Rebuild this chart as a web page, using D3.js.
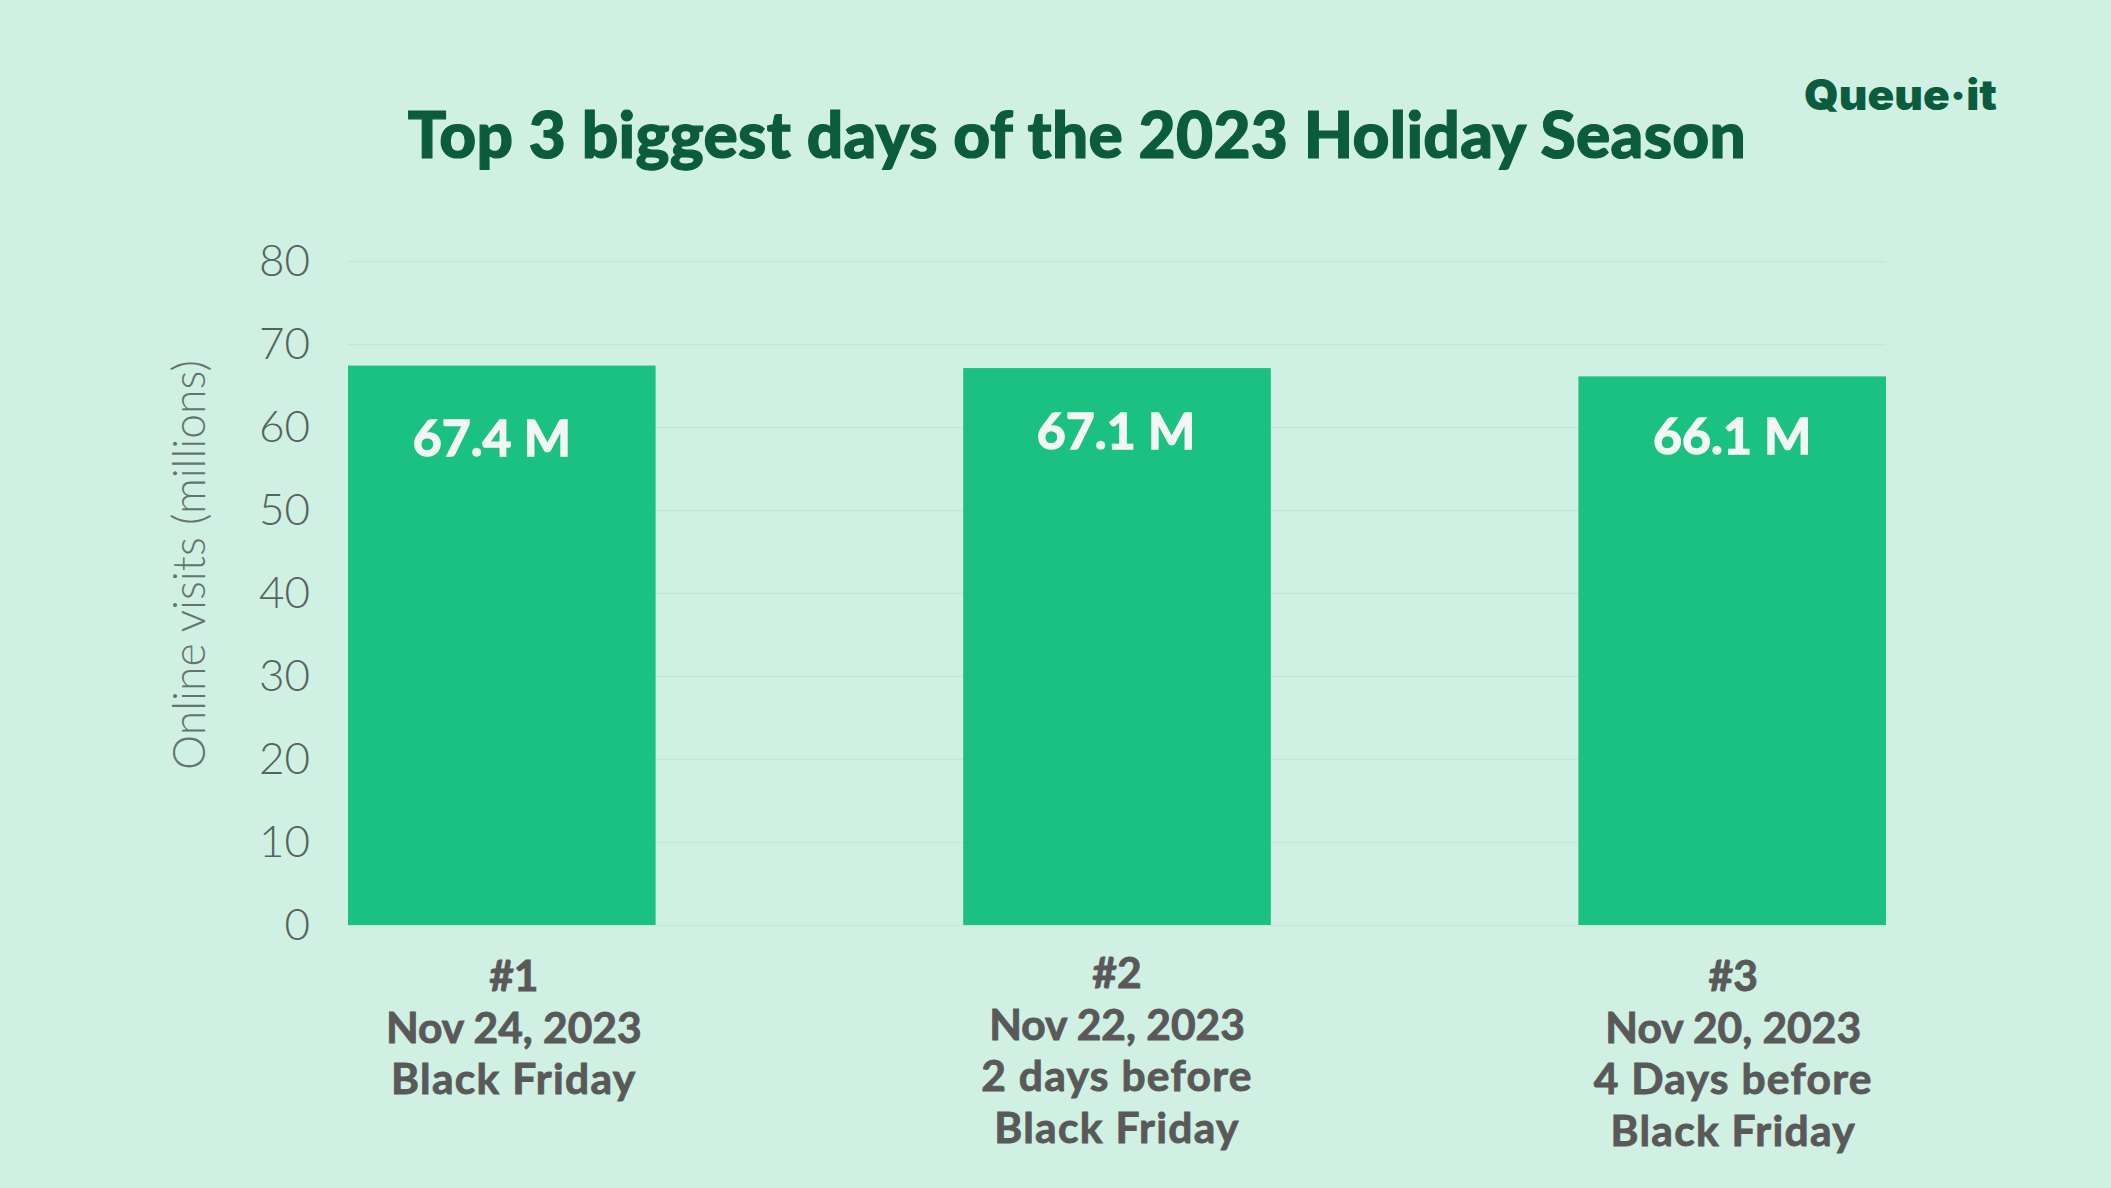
<!DOCTYPE html>
<html>
<head>
<meta charset="utf-8">
<script src="https://d3js.org/d3.v7.min.js"></script>
<style>
  html, body { margin: 0; padding: 0; background: #cff0e3; overflow: hidden; }
  svg { display: block; }
  text { font-family: Lato, "Open Sans", sans-serif; }
</style>
</head>
<body>
<div class="vis"></div>

<script>
  let width = 2111;
  let height = 1188;

  // labelX / linesX nudge each text block, the labels are not quite centred in the original
  let data = [
    {key: "a", value: 67.4, label: "67.4 M", labelX: -10, labelY: 456, lines: ["#1", "Nov 24, 2023", "Black Friday"], linesX: 12, linesY: 991},
    {key: "b", value: 67.1, label: "67.1 M", labelX: -1, labelY: 449, lines: ["#2", "Nov 22, 2023", "2 days before", "Black Friday"], linesX: 0, linesY: 988},
    {key: "c", value: 66.1, label: "66.1 M", labelX: 0, labelY: 454, lines: ["#3", "Nov 20, 2023", "4 Days before", "Black Friday"], linesX: 1, linesY: 991}
  ];

  let svg = d3.select(".vis").append("svg")
    .attr("width", width)
    .attr("height", height);

  svg.append("rect")
    .attr("width", width)
    .attr("height", height)
    .attr("fill", "#cff0e3");

  let x = d3.scaleBand()
    .domain(data.map(d => d.key))
    .range([348, 1886])
    .paddingInner(0.5)
    .paddingOuter(0);

  let y = d3.scaleLinear()
    .domain([0, 80])
    .range([925, 261]);

  // y axis, the tick lines double as the gridlines
  let yAxis = svg.append("g")
    .attr("transform", "translate(348,0)")
    .call(d3.axisLeft(y).tickValues(d3.range(0, 81, 10)).tickSize(-1538).tickPadding(38));
  yAxis.select(".domain").remove();
  yAxis.selectAll("line")
    .attr("stroke", "#c6e6d9")
    .attr("stroke-width", 1.5);
  yAxis.selectAll("text")
    .attr("fill", "#56635d")
    .style("font-size", "44px")
    .style("font-weight", 300);

  svg.append("text")
    .attr("transform", "translate(205,565) rotate(-90)")
    .attr("text-anchor", "middle")
    .attr("fill", "#66746e")
    .style("font-size", "44.5px")
    .style("font-weight", 300)
    .text("Online visits (millions)");

  // Bars
  svg.selectAll("rect.bar")
    .data(data)
    .join("rect")
    .attr("class", "bar")
    .attr("x", d => x(d.key))
    .attr("y", d => y(d.value))
    .attr("width", x.bandwidth())
    .attr("height", d => y(0) - y(d.value))
    .attr("fill", "#1bc181");

  // Value labels
  svg.selectAll("text.value")
    .data(data)
    .join("text")
    .attr("class", "value")
    .attr("x", d => x(d.key) + x.bandwidth() / 2 + d.labelX)
    .attr("y", d => d.labelY)
    .attr("text-anchor", "middle")
    .attr("fill", "#f4f6f5")
    .attr("stroke", "#f4f6f5")
    .attr("stroke-width", 1.4)
    .style("font-size", "50px")
    .style("font-weight", 700)
    .text(d => d.label);

  // Category labels
  let cats = svg.selectAll("text.cat")
    .data(data)
    .join("text")
    .attr("class", "cat")
    .attr("text-anchor", "middle")
    .attr("fill", "#595959")
    .attr("stroke", "#595959")
    .attr("stroke-width", 0.9)
    .style("font-size", "42.5px")
    .style("font-weight", 700);
  cats.selectAll("tspan")
    .data(d => d.lines.map((t, i) => ({t: t, i: i, d: d})))
    .join("tspan")
    .attr("x", c => x(c.d.key) + x.bandwidth() / 2 + c.d.linesX)
    .attr("y", c => c.d.linesY + c.i * 51.5)
    .style("letter-spacing", c => c.i < 2 ? "0px" : "1.3px")
    .text(c => c.t);

  // Title
  svg.append("text")
    .attr("x", 1077)
    .attr("y", 158)
    .attr("text-anchor", "middle")
    .attr("fill", "#0b5c3f")
    .attr("stroke", "#0b5c3f")
    .attr("stroke-width", 1.2)
    .style("font-size", "64px")
    .style("letter-spacing", "0.3px")
    .style("font-weight", 900)
    .text("Top 3 biggest days of the 2023 Holiday Season");

  // Logo wordmark
  svg.append("text")
    .attr("x", 1804)
    .attr("y", 110)
    .attr("textLength", 193)
    .attr("lengthAdjust", "spacingAndGlyphs")
    .attr("fill", "#0b5c3f")
    .style("font-family", "Inter, sans-serif")
    .style("font-size", "42px")
    .style("font-weight", 900)
    .text("Queue·it");
</script>
</body>
</html>
